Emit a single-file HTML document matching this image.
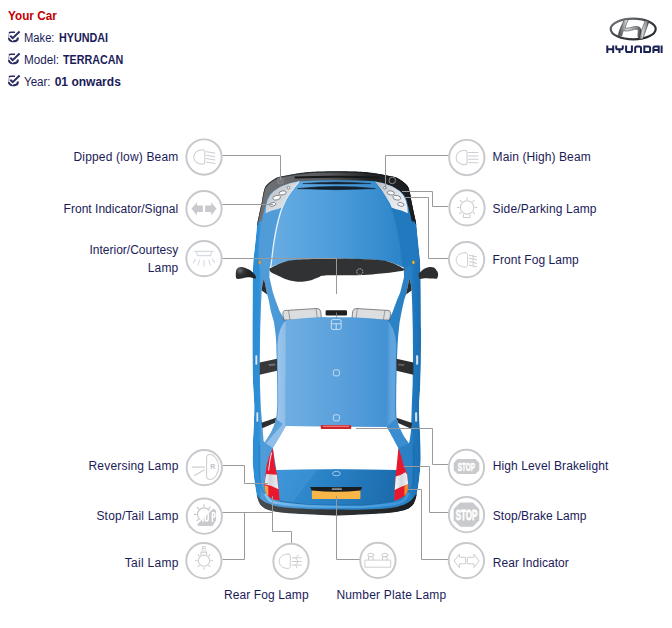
<!DOCTYPE html>
<html><head><meta charset="utf-8"><title>Your Car</title>
<style>
html,body{margin:0;padding:0;background:#fff;}
body{width:672px;height:628px;position:relative;overflow:hidden;font-family:"Liberation Sans",sans-serif;font-size:12px;color:#1b1b58;}
.lb{position:absolute;white-space:nowrap;line-height:14px;height:14px;color:#1b1b58;}
.hd{position:absolute;left:8px;white-space:nowrap;line-height:14px;}
.hd b{font-weight:bold;}
svg{position:absolute;left:0;top:0;}
</style></head><body>
<svg width="672" height="628" viewBox="0 0 672 628">
<defs>
<linearGradient id="gBody" x1="253" x2="421" y1="0" y2="0" gradientUnits="userSpaceOnUse">
 <stop offset="0" stop-color="#2b8dd5"/><stop offset="0.036" stop-color="#2d8fd6"/><stop offset="0.05" stop-color="#4f9cd9"/><stop offset="0.2" stop-color="#4a98d6"/><stop offset="0.5" stop-color="#2e88cb"/><stop offset="0.94" stop-color="#2a80c4"/><stop offset="0.955" stop-color="#1f77bd"/><stop offset="1" stop-color="#1b6fb3"/>
</linearGradient>
<linearGradient id="gHood" x1="268" x2="406" y1="0" y2="0" gradientUnits="userSpaceOnUse">
 <stop offset="0" stop-color="#69ade3"/><stop offset="0.45" stop-color="#4f9edb"/><stop offset="1" stop-color="#2a84c8"/>
</linearGradient>
<linearGradient id="gRoof" x1="286" x2="390" y1="0" y2="0" gradientUnits="userSpaceOnUse">
 <stop offset="0" stop-color="#6eade2"/><stop offset="0.5" stop-color="#5ba1dc"/><stop offset="1" stop-color="#4291d3"/>
</linearGradient>
<linearGradient id="gTail" x1="276" x2="398" y1="470" y2="505" gradientUnits="userSpaceOnUse">
 <stop offset="0" stop-color="#3892d6"/><stop offset="0.4" stop-color="#2a82c6"/><stop offset="0.75" stop-color="#2074b6"/><stop offset="1" stop-color="#1c69a8"/>
</linearGradient>
<linearGradient id="gBump" x1="259" x2="415" y1="0" y2="0" gradientUnits="userSpaceOnUse">
 <stop offset="0" stop-color="#717477"/><stop offset="0.45" stop-color="#56585b"/><stop offset="0.7" stop-color="#242526"/><stop offset="1" stop-color="#1b1c1d"/>
</linearGradient>
<linearGradient id="gHead" x1="0" x2="1" y1="0" y2="1">
 <stop offset="0" stop-color="#aab0b7"/><stop offset="0.45" stop-color="#d3d7dc"/><stop offset="1" stop-color="#eceef1"/>
</linearGradient>
<linearGradient id="gHeadR" x1="0" x2="1" y1="0" y2="1">
 <stop offset="0" stop-color="#b4bac2"/><stop offset="0.5" stop-color="#dfe3e8"/><stop offset="1" stop-color="#f2f4f6"/>
</linearGradient>
<linearGradient id="gBumpEdge" x1="257" x2="416" y1="0" y2="0" gradientUnits="userSpaceOnUse">
 <stop offset="0" stop-color="#3c3e40"/><stop offset="0.6" stop-color="#1e1f20"/><stop offset="1" stop-color="#161617"/>
</linearGradient>
<radialGradient id="gMirL" cx="240" cy="270.5" r="9" gradientUnits="userSpaceOnUse">
 <stop offset="0" stop-color="#6d6f72"/><stop offset="0.45" stop-color="#333436"/><stop offset="1" stop-color="#222324"/>
</radialGradient>
<linearGradient id="gRailL" x1="276" x2="286" y1="0" y2="0" gradientUnits="userSpaceOnUse">
 <stop offset="0" stop-color="#5ea2db"/><stop offset="0.15" stop-color="#9cc6ec"/><stop offset="0.9" stop-color="#8ebde8"/><stop offset="1" stop-color="#7db4e4"/>
</linearGradient>
<linearGradient id="gRailR" x1="387" x2="398" y1="0" y2="0" gradientUnits="userSpaceOnUse">
 <stop offset="0" stop-color="#4a97d7"/><stop offset="0.45" stop-color="#62a5de"/><stop offset="0.85" stop-color="#5fa3dd"/><stop offset="1" stop-color="#4492d3"/>
</linearGradient>
<linearGradient id="gDpL" x1="266" x2="284" y1="424" y2="440" gradientUnits="userSpaceOnUse">
 <stop offset="0" stop-color="#4f9ad7"/><stop offset="0.5" stop-color="#5ea3db"/><stop offset="0.55" stop-color="#8fbfe9"/><stop offset="1" stop-color="#8fbfe9"/>
</linearGradient>
<linearGradient id="gStrip" x1="265" x2="409" y1="0" y2="0" gradientUnits="userSpaceOnUse">
 <stop offset="0" stop-color="#8fc6ef"/><stop offset="0.25" stop-color="#62ade6"/><stop offset="0.6" stop-color="#4ea2e0"/><stop offset="1" stop-color="#3c96db"/>
</linearGradient>
<linearGradient id="gBumpR" x1="256" x2="416" y1="0" y2="0" gradientUnits="userSpaceOnUse">
 <stop offset="0" stop-color="#4a4c4e"/><stop offset="0.5" stop-color="#303133"/><stop offset="1" stop-color="#1d1e1f"/>
</linearGradient>
<linearGradient id="gLampL" x1="265" x2="278" y1="0" y2="0" gradientUnits="userSpaceOnUse">
 <stop offset="0" stop-color="#f4f6f8"/><stop offset="0.4" stop-color="#cfd5db"/><stop offset="1" stop-color="#e9edf0"/>
</linearGradient>
<linearGradient id="gLampR" x1="395" x2="408" y1="0" y2="0" gradientUnits="userSpaceOnUse">
 <stop offset="0" stop-color="#f6f8fa"/><stop offset="0.5" stop-color="#d5dae0"/><stop offset="1" stop-color="#eef1f4"/>
</linearGradient>
</defs>
<clipPath id="cBody"><path d="M336.7 171.3C328.47 171.3 318.28 171.47 312 171.8C305.72 172.13 302.67 172.82 299 173.3C295.33 173.78 293.1 174.15 290 174.7C286.9 175.25 282.88 175.95 280.4 176.6C277.92 177.25 277.1 177.48 275.1 178.6C273.1 179.72 270.07 181.85 268.4 183.3C266.73 184.75 265.97 185.52 265.1 187.3C264.23 189.08 263.73 191.63 263.2 194C262.67 196.37 262.62 197.87 261.9 201.5C261.18 205.13 259.7 211.98 258.9 215.8C258.1 219.62 257.58 221.03 257.1 224.4C256.62 227.77 256.43 231.73 256 236C255.57 240.27 254.93 246 254.5 250C254.07 254 253.68 255.83 253.4 260C253.12 264.17 252.93 270 252.8 275C252.67 280 252.67 280.83 252.6 290C252.53 299.17 252.42 318 252.4 330C252.38 342 252.42 353.67 252.5 362C252.58 370.33 252.72 374.67 252.9 380C253.08 385.33 253.38 389.83 253.6 394C253.82 398.17 254.12 401.33 254.2 405C254.28 408.67 254.2 412.17 254.1 416C254 419.83 253.78 424 253.6 428C253.42 432 253.15 435.83 253 440C252.85 444.17 252.72 448.83 252.7 453C252.68 457.17 252.57 460.02 252.9 465C253.23 469.98 254.03 477.83 254.7 482.9C255.37 487.97 256.08 491.98 256.9 495.4C257.72 498.82 258.4 501.32 259.6 503.4C260.8 505.48 262.32 506.72 264.1 507.9C265.88 509.08 267.03 509.68 270.3 510.5C273.57 511.32 277.45 512.17 283.7 512.8C289.95 513.43 298.97 513.87 307.8 514.3C316.63 514.73 327.07 515.4 336.7 515.4C346.33 515.4 356.77 514.73 365.6 514.3C374.43 513.87 383.45 513.43 389.7 512.8C395.95 512.17 399.83 511.32 403.1 510.5C406.37 509.68 407.52 509.08 409.3 507.9C411.08 506.72 412.6 505.48 413.8 503.4C415 501.32 415.68 498.82 416.5 495.4C417.32 491.98 418.03 487.97 418.7 482.9C419.37 477.83 420.17 469.98 420.5 465C420.83 460.02 420.72 457.17 420.7 453C420.68 448.83 420.55 444.17 420.4 440C420.25 435.83 419.98 432 419.8 428C419.62 424 419.4 419.83 419.3 416C419.2 412.17 419.12 408.67 419.2 405C419.28 401.33 419.58 398.17 419.8 394C420.02 389.83 420.32 385.33 420.5 380C420.68 374.67 420.82 370.33 420.9 362C420.98 353.67 421.02 342 421 330C420.98 318 420.87 299.17 420.8 290C420.73 280.83 420.73 280 420.6 275C420.47 270 420.28 264.17 420 260C419.72 255.83 419.33 254 418.9 250C418.47 246 417.83 240.27 417.4 236C416.97 231.73 416.78 227.77 416.3 224.4C415.82 221.03 415.3 219.62 414.5 215.8C413.7 211.98 412.22 205.13 411.5 201.5C410.78 197.87 410.73 196.37 410.2 194C409.67 191.63 409.17 189.08 408.3 187.3C407.43 185.52 406.67 184.75 405 183.3C403.33 181.85 400.3 179.72 398.3 178.6C396.3 177.48 395.48 177.25 393 176.6C390.52 175.95 386.5 175.25 383.4 174.7C380.3 174.15 378.07 173.78 374.4 173.3C370.73 172.82 367.68 172.13 361.4 171.8C355.12 171.47 344.93 171.3 336.7 171.3Z"/></clipPath>
<g clip-path="url(#cBody)">
<path d="M336.7 171.3C328.47 171.3 318.28 171.47 312 171.8C305.72 172.13 302.67 172.82 299 173.3C295.33 173.78 293.1 174.15 290 174.7C286.9 175.25 282.88 175.95 280.4 176.6C277.92 177.25 277.1 177.48 275.1 178.6C273.1 179.72 270.07 181.85 268.4 183.3C266.73 184.75 265.97 185.52 265.1 187.3C264.23 189.08 263.73 191.63 263.2 194C262.67 196.37 262.62 197.87 261.9 201.5C261.18 205.13 259.7 211.98 258.9 215.8C258.1 219.62 257.58 221.03 257.1 224.4C256.62 227.77 256.43 231.73 256 236C255.57 240.27 254.93 246 254.5 250C254.07 254 253.68 255.83 253.4 260C253.12 264.17 252.93 270 252.8 275C252.67 280 252.67 280.83 252.6 290C252.53 299.17 252.42 318 252.4 330C252.38 342 252.42 353.67 252.5 362C252.58 370.33 252.72 374.67 252.9 380C253.08 385.33 253.38 389.83 253.6 394C253.82 398.17 254.12 401.33 254.2 405C254.28 408.67 254.2 412.17 254.1 416C254 419.83 253.78 424 253.6 428C253.42 432 253.15 435.83 253 440C252.85 444.17 252.72 448.83 252.7 453C252.68 457.17 252.57 460.02 252.9 465C253.23 469.98 254.03 477.83 254.7 482.9C255.37 487.97 256.08 491.98 256.9 495.4C257.72 498.82 258.4 501.32 259.6 503.4C260.8 505.48 262.32 506.72 264.1 507.9C265.88 509.08 267.03 509.68 270.3 510.5C273.57 511.32 277.45 512.17 283.7 512.8C289.95 513.43 298.97 513.87 307.8 514.3C316.63 514.73 327.07 515.4 336.7 515.4C346.33 515.4 356.77 514.73 365.6 514.3C374.43 513.87 383.45 513.43 389.7 512.8C395.95 512.17 399.83 511.32 403.1 510.5C406.37 509.68 407.52 509.08 409.3 507.9C411.08 506.72 412.6 505.48 413.8 503.4C415 501.32 415.68 498.82 416.5 495.4C417.32 491.98 418.03 487.97 418.7 482.9C419.37 477.83 420.17 469.98 420.5 465C420.83 460.02 420.72 457.17 420.7 453C420.68 448.83 420.55 444.17 420.4 440C420.25 435.83 419.98 432 419.8 428C419.62 424 419.4 419.83 419.3 416C419.2 412.17 419.12 408.67 419.2 405C419.28 401.33 419.58 398.17 419.8 394C420.02 389.83 420.32 385.33 420.5 380C420.68 374.67 420.82 370.33 420.9 362C420.98 353.67 421.02 342 421 330C420.98 318 420.87 299.17 420.8 290C420.73 280.83 420.73 280 420.6 275C420.47 270 420.28 264.17 420 260C419.72 255.83 419.33 254 418.9 250C418.47 246 417.83 240.27 417.4 236C416.97 231.73 416.78 227.77 416.3 224.4C415.82 221.03 415.3 219.62 414.5 215.8C413.7 211.98 412.22 205.13 411.5 201.5C410.78 197.87 410.73 196.37 410.2 194C409.67 191.63 409.17 189.08 408.3 187.3C407.43 185.52 406.67 184.75 405 183.3C403.33 181.85 400.3 179.72 398.3 178.6C396.3 177.48 395.48 177.25 393 176.6C390.52 175.95 386.5 175.25 383.4 174.7C380.3 174.15 378.07 173.78 374.4 173.3C370.73 172.82 367.68 172.13 361.4 171.8C355.12 171.47 344.93 171.3 336.7 171.3Z" fill="url(#gBody)" />
<path d="M252.32 221.4C252.64 219.97 253.38 216.62 254.23 212.8C255.08 208.98 256.65 202.13 257.41 198.5C258.17 194.87 258.22 193.37 258.79 191C259.36 188.63 259.89 186.08 260.8 184.3C261.72 182.52 262.54 181.75 264.3 180.3C266.07 178.85 269.28 176.72 271.4 175.6C273.52 174.48 274.39 174.25 277.02 173.6C279.65 172.95 283.91 172.25 287.2 171.7C290.48 171.15 292.85 170.78 296.74 170.3C300.62 169.82 303.86 169.13 310.52 168.8C317.18 168.47 327.97 168.3 336.7 168.3C345.43 168.3 356.22 168.47 362.88 168.8C369.54 169.13 372.78 169.82 376.66 170.3C380.55 170.78 382.92 171.15 386.2 171.7C389.49 172.25 393.75 172.95 396.38 173.6C399.01 174.25 399.88 174.48 402 175.6C404.12 176.72 407.33 178.85 409.1 180.3C410.86 181.75 411.68 182.52 412.6 184.3C413.51 186.08 414.04 188.63 414.61 191C415.18 193.37 415.23 194.87 415.99 198.5C416.75 202.13 418.32 208.98 419.17 212.8C420.02 216.62 420.76 219.97 421.08 221.4L411.7 221.5C411.4 220.08 410.55 215.75 409.9 213C409.25 210.25 408.43 207.33 407.8 205C407.17 202.67 406.83 200.75 406.1 199C405.37 197.25 404.52 195.9 403.4 194.5C402.28 193.1 401.23 191.95 399.4 190.6C397.57 189.25 395.07 187.63 392.4 186.4C389.73 185.17 386.4 184.03 383.4 183.2C380.4 182.37 378.57 181.8 374.4 181.4C370.23 181 364.68 180.93 358.4 180.8C352.12 180.67 343.93 180.6 336.7 180.6C329.47 180.6 321.28 180.67 315 180.8C308.72 180.93 303.17 181 299 181.4C294.83 181.8 293 182.37 290 183.2C287 184.03 283.67 185.17 281 186.4C278.33 187.63 275.83 189.25 274 190.6C272.17 191.95 271.12 193.1 270 194.5C268.88 195.9 268.03 197.25 267.3 199C266.57 200.75 266.23 202.67 265.6 205C264.97 207.33 264.15 210.25 263.5 213C262.85 215.75 262 220.08 261.7 221.5Z" fill="url(#gBump)" />
<path d="M257.1 225C257.4 223.57 258.1 220.22 258.9 216.4C259.7 212.58 261.18 205.73 261.9 202.1C262.62 198.47 262.67 196.97 263.2 194.6C263.73 192.23 264.23 189.68 265.1 187.9C265.97 186.12 266.73 185.35 268.4 183.9C270.07 182.45 273.1 180.32 275.1 179.2C277.1 178.08 277.92 177.85 280.4 177.2C282.88 176.55 286.9 175.85 290 175.3C293.1 174.75 295.33 174.38 299 173.9C302.67 173.42 305.72 172.73 312 172.4C318.28 172.07 328.47 171.9 336.7 171.9C344.93 171.9 355.12 172.07 361.4 172.4C367.68 172.73 370.73 173.42 374.4 173.9C378.07 174.38 380.3 174.75 383.4 175.3C386.5 175.85 390.52 176.55 393 177.2C395.48 177.85 396.3 178.08 398.3 179.2C400.3 180.32 403.33 182.45 405 183.9C406.67 185.35 407.43 186.12 408.3 187.9C409.17 189.68 409.67 192.23 410.2 194.6C410.73 196.97 410.78 198.47 411.5 202.1C412.22 205.73 413.7 212.58 414.5 216.4C415.3 220.22 416 223.57 416.3 225" fill="none" stroke="url(#gBumpEdge)" stroke-width="1.3"/>
<circle cx="280.4" cy="180.9" r="3.3" fill="#74777b" stroke="#8d9094" stroke-width="0.5"/>
<circle cx="392.3" cy="180.4" r="3.3" fill="none" stroke="#c9ccd0" stroke-width="0.6"/>
<path d="M336.7 180.6L315 180.8L299 181.4L292.8 189L287.5 196.7L283.3 205L280 214L276.5 228L273.5 245L271.3 263L270.5 267L283 262L300 259.4L336.7 258.3L373.4 259.4L390.4 262L402.9 267L402.1 263L399.9 245L396.9 228L393.4 214L390.1 205L385.9 196.7L380.6 189L374.4 181.4L358.4 180.8Z" fill="url(#gHood)" />
<path d="M265.6 213.2L272 210.6L278 208.9L281.8 207.6L280 214L276.5 228L273.5 245L271.3 263L270.5 267L264 276L259.5 268L258.2 255L259 240L260.5 228L261.7 221.5Z" fill="#509cd9" />
<path d="M374.4 181.4L380.6 189L385.9 196.7L390.1 205L393.4 214L396.9 228L399.9 245L402.1 263L402.9 267L404.5 268L419.5 262L418 240L416.3 224.4L411.7 221.5L408.4 213Z" fill="#2279bd" />
<path d="M299 181.4C297.97 182.67 294.72 186.45 292.8 189C290.88 191.55 289.08 194.03 287.5 196.7C285.92 199.37 284.55 202.12 283.3 205C282.05 207.88 281.13 210.17 280 214C278.87 217.83 277.58 222.83 276.5 228C275.42 233.17 274.37 239.17 273.5 245C272.63 250.83 271.8 259.33 271.3 263C270.8 266.67 270.63 266.33 270.5 267" fill="none" stroke="#eaf3fb" stroke-width="1.3"/>
<path d="M374.4 181.4C375.43 182.67 378.68 186.45 380.6 189C382.52 191.55 384.32 194.03 385.9 196.7C387.48 199.37 388.85 202.12 390.1 205C391.35 207.88 392.27 210.17 393.4 214C394.53 217.83 395.82 222.83 396.9 228C397.98 233.17 399.03 239.17 399.9 245C400.77 250.83 401.6 259.33 402.1 263C402.6 266.67 402.77 266.33 402.9 267" fill="none" stroke="#2a7fc2" stroke-width="0.8"/>
<path d="M294.5 176.6Q336.7 175 379.3 176.6L379 178.4Q336.7 176.9 294.8 178.4Z" fill="#17181a"/>
<path d="M302.8 183.6Q336.7 180.4 371 183.6Q336.7 184.6 302.8 183.6Z" fill="#172636" stroke="#172636" stroke-width="0.5"/>
<path d="M297.6 188.6Q336.7 184.2 375.2 188.6Q336.7 190.8 297.6 188.6Z" fill="#13202d" stroke="#13202d" stroke-width="0.6"/>
<path d="M298.6 181.6L290 183.3L281 186.6L274 190.9L270.2 195L267.5 200.5L266 207L265.6 213.2L272 210.6L278 208.9L281.8 207.6L283.5 203.5L287.5 196.7L292.5 189Z" fill="url(#gHead)" />
<path d="M374.8 181.6L383.4 183.3L392.4 186.6L399.4 190.9L403.2 195L405.9 200.5L407.4 207L407.8 213.2L401.4 210.6L395.4 208.9L391.6 207.6L389.9 203.5L385.9 196.7L380.9 189Z" fill="url(#gHeadR)" />
<ellipse cx="288.5" cy="187.7" rx="1.4" ry="1.3" transform="rotate(0 288.5 187.7)" fill="#f9fafb" stroke="#70767d" stroke-width="0.8"/>
<ellipse cx="384.9" cy="187.7" rx="1.4" ry="1.3" transform="rotate(0 384.9 187.7)" fill="#f9fafb" stroke="#70767d" stroke-width="0.8"/>
<ellipse cx="282.6" cy="192.9" rx="3.6" ry="2.0" transform="rotate(-12 282.6 192.9)" fill="#f9fafb" stroke="#70767d" stroke-width="0.8"/>
<ellipse cx="390.8" cy="192.9" rx="3.6" ry="2.0" transform="rotate(12 390.8 192.9)" fill="#f9fafb" stroke="#70767d" stroke-width="0.8"/>
<ellipse cx="276.6" cy="197.7" rx="4.0" ry="2.3" transform="rotate(-14 276.6 197.7)" fill="#f9fafb" stroke="#70767d" stroke-width="0.8"/>
<ellipse cx="396.8" cy="197.7" rx="4.0" ry="2.3" transform="rotate(14 396.8 197.7)" fill="#f9fafb" stroke="#70767d" stroke-width="0.8"/>
<ellipse cx="272.6" cy="204.4" rx="3.2" ry="1.8" transform="rotate(-14 272.6 204.4)" fill="#f9fafb" stroke="#70767d" stroke-width="0.8"/>
<ellipse cx="400.8" cy="204.4" rx="3.2" ry="1.8" transform="rotate(14 400.8 204.4)" fill="#f9fafb" stroke="#70767d" stroke-width="0.8"/>
<path d="M283 262L300 259.4L336.7 258.3L373.4 259.4L390.4 262L403.8 267.5L404 277.3L400.2 292.5L397 300L392.6 312L389.8 318L387.4 320.3L336.7 317.5L286.1 320.3L283 317L279.4 310.7L275.4 300L272.9 292.5L269.4 277.3L269.6 267.5Z" fill="#fff" />
<path d="M263.9 278.5L265.3 285L267.2 294.6L268.7 300L270.9 311.6L274 322.3L275.8 335.7L276.3 344.6L276.8 362L277.2 385L277.3 405L276.6 415L275.9 419L274.6 424.5L271.4 431.8L268 437.6L264.6 442.4L263.6 441L262.5 427.3L261.4 415L260.7 405L260 385L259.8 362L260.2 330L261 305L261.7 290.6L262.5 284Z" fill="#fff" />
<path d="M409.3 278.5L408 285L406 294.6L404.2 300L401.6 311.6L399.6 322.3L398.2 335.7L397.6 344.6L396.8 362L396.3 385L396.1 405L396.3 414L396.6 418.4L398.4 425.5L401 431L403.7 436.3L408.8 443.4L409.6 441L410.9 431.8L411.5 415L411.8 405L412.6 385L413 362L412.8 330L412.2 305L411.6 290.6L410.8 284Z" fill="#fff" />
<path d="M285.7 426L387 426.8L392 436L398.4 447.9L397.6 470L336.7 469.3L276.4 470L272.8 447.9L280 436Z" fill="#fff" />
<path d="M263.9 278.5L265.3 285L267.2 294.6L261.7 290.6L262.5 284Z" fill="#2a2c2e" />
<path d="M409.3 278.5L408 285L406 294.6L411.6 290.6L410.8 284Z" fill="#2a2c2e" />
<path d="M259.6 362.4L277 358.8L277 370.8L259.6 374.8Z" fill="#36383a" />
<path d="M268 364.2L275 363.4L275.5 365.4L269.5 366Z" fill="#6f7276"/>
<path d="M413.4 362.4L396.4 358.8L396.4 370.8L413.4 374.8Z" fill="#2c2e30" />
<path d="M405 364.2L398.4 363.4L398 365.4L403.5 366Z" fill="#5d6064"/>
<path d="M261.4 422.8L276.2 417.8L275 422.8L262.3 428.2Z" fill="#2b2d2f" />
<path d="M396.4 417.7L412.3 422.9L411.2 428.8L398 422.9Z" fill="#2b2d2f" />
<path d="M284.5 310.5L317 308.5Q320 308.5 320.8 311.5L321.5 320L284 320Q281.5 311.5 284.5 310.5Z" fill="#dcdddf" stroke="#55585c" stroke-width="0.7"/>
<path d="M288.5 310.5L290 320M316 308.5L317.5 320" stroke="#6b6e72" stroke-width="0.6" fill="none"/>
<g transform="translate(673.4 0) scale(-1 1)"><path d="M284.5 310.5L317 308.5Q320 308.5 320.8 311.5L321.5 320L284 320Q281.5 311.5 284.5 310.5Z" fill="#dcdddf" stroke="#55585c" stroke-width="0.7"/><path d="M288.5 310.5L290 320M316 308.5L317.5 320" stroke="#6b6e72" stroke-width="0.6" fill="none"/></g>
<rect x="325.6" y="310.2" width="21.4" height="5.2" rx="1.2" fill="#1e1f20"/>
<path d="M336.5 312.5V317.5" stroke="#888" stroke-width="0.8"/>
<path d="M269.3 268.8C271.58 267.72 277.88 263.83 283 262.3C288.12 260.77 291.05 260.23 300 259.6C308.95 258.97 324.47 258.5 336.7 258.5C348.93 258.5 364.45 258.97 373.4 259.6C382.35 260.23 385.28 260.77 390.4 262.3C395.52 263.83 401.82 267.72 404.1 268.8L404.7 268.8C404.48 269.1 405.02 270.07 403.4 270.6C401.78 271.13 398.23 271.55 395 272C391.77 272.45 387.83 272.9 384 273.3C380.17 273.7 377.33 274.08 372 274.4C366.67 274.72 359.83 275.03 352 275.2C344.17 275.37 330.67 275.02 325 275.4C319.33 275.78 320.5 276.63 318 277.5C315.5 278.37 312.67 279.88 310 280.6C307.33 281.32 304.67 281.68 302 281.8C299.33 281.92 296.67 281.73 294 281.3C291.33 280.87 288.67 280.12 286 279.2C283.33 278.28 280.42 276.9 278 275.8C275.58 274.7 272.87 273.5 271.5 272.6C270.13 271.7 270.17 271.03 269.8 270.4C269.43 269.77 269.38 269.07 269.3 268.8Z" fill="#303234" />
<circle cx="359.8" cy="271.8" r="3.1" fill="none" stroke="#e6e8ea" stroke-width="0.8" stroke-dasharray="1.3 0.8"/>
<path d="M286.1 320.3L300 318.5L321 317L336.7 317.5L352 317.2L373 318.6L387.4 320.3L387 426.8L285.7 426Z" fill="url(#gRoof)" />
<path d="M286.1 320.5L283.2 323.5L280.4 329L278.4 336L277.5 345L277.7 362L278.1 385L278.2 405L277.5 415L276.8 419L274.6 424.5L280 436L285.7 426Z" fill="url(#gRailL)"/>
<path d="M387.4 320.5L390 323.5L393 329L395.2 336L396.3 345L395.9 362L395.4 385L395.2 405L395.4 414L395.7 418.4L398.4 425.5L392 436L387 426.8Z" fill="url(#gRailR)"/>
<path d="M285.7 426L280 436L272.8 447.9L264.6 442.4L268 437.6L271.4 431.8L274.6 424.5L275.9 419L279 421Z" fill="url(#gDpL)"/>
<path d="M387 426.8L392 436L398.4 447.9L408.8 443.4L403.7 436.3L401 431L398.4 425.5L396.6 418.4L393 421Z" fill="#398dd0"/>
<g fill="none" stroke="#e3eef8" stroke-width="0.8"><rect x="331.3" y="319.6" width="9.8" height="9.8" rx="1.5"/><path d="M331.3 323.8H341.1M336.2 323.8V329.4"/></g>
<rect x="333.4" y="369.9" width="6" height="6" rx="1.6" fill="none" stroke="#dcebf8" stroke-width="0.8"/>
<rect x="333.4" y="414.8" width="6" height="6" rx="1.6" fill="none" stroke="#dcebf8" stroke-width="0.8"/>
<rect x="320.8" y="425.1" width="30.4" height="4" rx="1.2" fill="#cf242b"/>
<rect x="323" y="425.7" width="26" height="1.1" fill="#ee8a8c"/>
<path d="M276.4 470L336.7 469.4L396.8 470L395.5 476.6L394.1 501L366 505L336.7 505.2L307.8 504.6L279.7 501L277.5 476.6Z" fill="url(#gTail)" />
<path d="M276.4 470L318 469.6L292 503L279.7 501Z" fill="#4a9fe0" opacity="0.35"/>
<ellipse cx="336.4" cy="473.6" rx="3.9" ry="2.2" fill="none" stroke="#d7e7f5" stroke-width="0.7"/>
<path d="M279.7 501C284.38 501.6 298.3 503.9 307.8 504.6C317.3 505.3 327 505.13 336.7 505.2C346.4 505.27 356.43 505.7 366 505C375.57 504.3 389.42 501.67 394.1 501" fill="none" stroke="#1a5f9a" stroke-width="0.7"/>
<path d="M310.3 487L362 487L360.6 490.6L311.8 490.6Z" fill="#1b1c1e"/>
<path d="M311.9 489.8Q336.2 492.6 360.4 489.8L360.4 498.2Q360.4 498.9 359.6 498.9H312.7Q311.9 498.9 311.9 498.2Z" fill="#f8b548"/>
<path d="M310.3 487H362L360.5 490.4Q336.2 493 311.9 490.4Z" fill="#1b1c1e"/>
<path d="M332 488.3h9.6M331.6 489.5h10.4" stroke="#b9bcc0" stroke-width="0.7"/>
<path d="M265.2 493.5C265.57 494.18 266.55 496.4 267.4 497.6C268.25 498.8 268.87 499.83 270.3 500.7C271.73 501.57 273.77 502.25 276 502.8C278.23 503.35 278.4 503.47 283.7 504C289 504.53 298.97 505.53 307.8 506C316.63 506.47 327 506.7 336.7 506.8C346.4 506.9 356.65 507.07 366 506.6C375.35 506.13 387.22 504.7 392.8 504C398.38 503.3 397.72 502.98 399.5 502.4C401.28 501.82 402.33 501.4 403.5 500.5C404.67 499.6 405.65 498.33 406.5 497C407.35 495.67 408.25 493.25 408.6 492.5" fill="none" stroke="url(#gStrip)" stroke-width="2.4"/>
<path d="M256.3 494C256.83 494.67 258.35 496.85 259.5 498C260.65 499.15 261.7 499.97 263.2 500.9C264.7 501.83 266.57 502.78 268.5 503.6C270.43 504.42 272.27 505.2 274.8 505.8C277.33 506.4 278.2 506.68 283.7 507.2C289.2 507.72 298.97 508.53 307.8 508.9C316.63 509.27 327 509.28 336.7 509.4C346.4 509.52 357.4 509.78 366 509.6C374.6 509.42 382.65 508.88 388.3 508.3C393.95 507.72 396.62 507.07 399.9 506.1C403.18 505.13 405.92 503.7 408 502.5C410.08 501.3 411.03 500.28 412.4 498.9C413.77 497.52 415.57 494.98 416.2 494.2L422 496L418 512L400 520L336.7 522L272 520L255 512L250 496Z" fill="url(#gBumpR)" />
<path d="M259.4 445C259.37 448.33 259.07 458.83 259.2 465C259.33 471.17 259.63 477.67 260.2 482C260.77 486.33 261.77 489.08 262.6 491C263.43 492.92 264.77 493.08 265.2 493.5" fill="none" stroke="#1f72b6" stroke-width="0.7"/>
<path d="M414 445C414.03 448.33 414.33 458.83 414.2 465C414.07 471.17 413.77 478 413.2 482C412.63 486 411.57 487.25 410.8 489C410.03 490.75 408.97 491.92 408.6 492.5" fill="none" stroke="#17629f" stroke-width="0.7"/>
<path d="M272.8 447.9Q268.5 457 266.75 465L265.4 475.7L264.5 485.5L265.4 491.8L267.2 494.9Q270.5 498.4 274.8 499.8L279.7 500.6L277.5 476.6L274.8 465Z" fill="#e8192e"/>
<path d="M266.3 473.9L276.9 474.8L278.4 489.3Q271.5 485.2 264.9 484.2L265.4 478Z" fill="url(#gLampL)"/>
<path d="M264.6 485.4Q266.5 485.6 268.2 486.3L268.4 495.8L267.2 494.9L265.4 491.8Z" fill="#f3a640"/>
<path d="M271.6 452.5Q269.6 460 268.6 470.5" stroke="#fff" stroke-width="0.9" fill="none"/>
<path d="M398.4 447.9Q401.6 456 403.5 465L407.1 473.9L408.4 484.6L407.5 491.8L405.3 495.4Q400.5 499 394.1 500.8L395.5 476.6L396.8 465Z" fill="#e8192e"/>
<path d="M395.8 476.4Q401 475.2 405.4 472.2L407.1 474.5L408.2 484.2Q400.8 486.5 394.7 490Z" fill="url(#gLampR)"/>
<path d="M404.4 485.8Q406.5 485.2 408.4 484.6L407.5 491.8L405.3 495.4L404.4 495.8Z" fill="#f08a2c"/>
<rect x="255.2" y="355" width="2.2" height="10" rx="1" fill="#eaf2fa" stroke="#2a70ad" stroke-width="0.4"/>
<rect x="416" y="355" width="2.2" height="10" rx="1" fill="#eaf2fa" stroke="#2a70ad" stroke-width="0.4"/>
<rect x="256.2" y="412" width="2.2" height="10" rx="1" fill="#eaf2fa" stroke="#2a70ad" stroke-width="0.4"/>
<rect x="415" y="412" width="2.2" height="10" rx="1" fill="#eaf2fa" stroke="#2a70ad" stroke-width="0.4"/>
<ellipse cx="259.8" cy="262.3" rx="1.3" ry="1.9" fill="#e9a63b" stroke="#8a6a2a" stroke-width="0.3"/>
<ellipse cx="413.4" cy="262.3" rx="1.3" ry="1.9" fill="#f0b63b" stroke="#8a6a2a" stroke-width="0.3"/>
</g>
<path d="M255.6 276C255.25 275.2 253.71 273.37 253 272.6C252.29 271.83 251.23 270.79 250.3 270.2C249.37 269.61 247.13 268.63 246 268.2C244.87 267.77 242.84 267.07 241.8 267C240.76 266.93 238.93 267.3 238.2 267.7C237.47 268.1 236.62 269.09 236.3 270C235.98 270.91 235.79 273.37 235.8 274.5C235.81 275.63 235.84 277.93 236.4 278.5C236.96 279.07 238.72 278.92 240 278.8C241.28 278.68 244.53 277.79 246 277.6C247.47 277.41 249.72 277.27 251 277.4C252.28 277.53 254.99 278.79 255.6 278.6C256.21 278.41 255.95 276.8 255.6 276Z" fill="url(#gMirL)"/>
<path d="M418.6 274C418.79 273 420.25 272.09 421 271.4C421.75 270.71 423.33 269.32 424.2 268.8C425.07 268.28 426.65 267.74 427.5 267.5C428.35 267.26 429.79 266.99 430.6 267C431.41 267.01 432.89 267.28 433.6 267.6C434.31 267.92 435.38 268.84 435.9 269.4C436.42 269.96 437.21 271.12 437.5 271.8C437.79 272.48 438.09 273.78 438.1 274.5C438.11 275.22 437.83 276.64 437.6 277.2C437.37 277.76 437.15 278.51 436.4 278.7C435.65 278.89 433.27 278.67 432 278.6C430.73 278.53 428.17 278.23 426.9 278.2C425.63 278.17 423.47 278.31 422.5 278.4C421.53 278.49 420.12 279.49 419.6 278.9C419.08 278.31 418.41 275 418.6 274Z" fill="#2d2e30"/>
<polyline points="222.5,155.5 280.5,155.5 280.5,180" fill="none" stroke="#9a9a9a" stroke-width="1"/>
<polyline points="222.5,204.5 273,204.5" fill="none" stroke="#9a9a9a" stroke-width="1"/>
<polyline points="222.5,258.5 336.5,258.5 336.5,294" fill="none" stroke="#9a9a9a" stroke-width="1"/>
<polyline points="448.5,155.5 385.5,155.5 385.5,189" fill="none" stroke="#9a9a9a" stroke-width="1"/>
<polyline points="448.5,206.5 432.5,206.5 432.5,191.5 402,191.5" fill="none" stroke="#9a9a9a" stroke-width="1"/>
<polyline points="448.5,258.5 428.5,258.5 428.5,197.5 405,197.5" fill="none" stroke="#9a9a9a" stroke-width="1"/>
<polyline points="222.5,465.5 244.5,465.5 244.5,483.5 268,483.5" fill="none" stroke="#9a9a9a" stroke-width="1"/>
<polyline points="222.5,512.5 272.5,512.5" fill="none" stroke="#9a9a9a" stroke-width="1"/>
<polyline points="222.5,559.5 244.5,559.5 244.5,512.5" fill="none" stroke="#9a9a9a" stroke-width="1"/>
<polyline points="272.5,496 272.5,531.5 291.5,531.5 291.5,543" fill="none" stroke="#9a9a9a" stroke-width="1"/>
<polyline points="360,559.5 336.5,559.5 336.5,496" fill="none" stroke="#9a9a9a" stroke-width="1"/>
<polyline points="448.5,464.5 432.5,464.5 432.5,428.5 356,428.5" fill="none" stroke="#9a9a9a" stroke-width="1"/>
<polyline points="448.5,512.5 429.5,512.5 429.5,466.5 403.5,466.5" fill="none" stroke="#9a9a9a" stroke-width="1"/>
<polyline points="448.5,559.5 421.5,559.5 421.5,489.5 407,489.5" fill="none" stroke="#9a9a9a" stroke-width="1"/>

<circle cx="204" cy="157" r="17.65" fill="#fff" stroke="#c8c9cd" stroke-width="1.95"/>
<g transform="translate(204 157)"><g fill="none" stroke="#cdced2" stroke-width="1.05" stroke-linecap="round" stroke-linejoin="round"><path d="M-1.20 -7.30C-6.90 -7.30 -10.20 -4.04 -10.20 -0.05C-10.20 3.94 -6.90 7.20 -1.20 7.20C0.20 7.20 0.80 6.00 0.80 4.20V-4.30C0.80 -6.10 0.20 -7.30 -1.20 -7.30Z"/><path d="M2.4 -5.3L10.8 -3.9M2.4 -1.75L10.8 -0.35M2.4 1.6L10.8 3M2.4 5.1L10.8 6.5"/></g></g>
<circle cx="204" cy="208.7" r="17.65" fill="#fff" stroke="#c8c9cd" stroke-width="1.95"/>
<g transform="translate(204 208.7)"><path d="M-12.5 0.1L-7 -6.5V-3.1H-1.15V3.3H-7V6.9ZM12.5 0.1L7.1 -6.5V-3.1H1.1V3.3H7.1V6.9Z" fill="#c9cacd"/></g>
<circle cx="204" cy="258.6" r="17.65" fill="#fff" stroke="#c8c9cd" stroke-width="1.95"/>
<g transform="translate(204 258.6)"><g fill="none" stroke="#d3dae3" stroke-width="1.1" stroke-linecap="round" stroke-linejoin="round"><path d="M-9.1 -7.2H8.9M-7.6 -7.2L-6.6 -3H6.6L7.7 -7.2"/><path d="M-8.3 0.5L-10.6 3.9M-4.5 1.6L-6 6.6M0.1 2V7.4M4.7 1.6L6.2 6.6M8.5 0.5L10.6 3.9"/></g></g>
<circle cx="204.3" cy="467.6" r="17.65" fill="#fff" stroke="#c8c9cd" stroke-width="1.95"/>
<g transform="translate(204.3 467.6)"><g fill="none" stroke="#cdced2" stroke-width="1.05" stroke-linecap="round" stroke-linejoin="round"><path d="M2.3 -9.5C2.3 -12 3.6 -13.1 5.6 -13.1C10.5 -13.1 14.3 -6.5 14.3 -0.6C14.3 5.3 10.5 11.9 5.6 11.9C3.6 11.9 2.3 10.8 2.3 8.3Z"/><path d="M-12.1 -0.5H0.2M0.2 2.2L-9.8 7.9"/></g><text x="8.5" y="1.2" font-family="Liberation Sans, sans-serif" font-size="6.8" font-weight="bold" text-anchor="middle" fill="#bfc0c4">R</text></g>
<circle cx="204.3" cy="516.2" r="17.65" fill="#fff" stroke="#c8c9cd" stroke-width="1.95"/>
<g transform="translate(204.3 516.2)"><g fill="none" stroke="#c9cacd" stroke-width="1.2" stroke-linecap="round" stroke-linejoin="round"><circle cx="-0.3" cy="-1.9" r="6.5"/><path d="M-0.30 -9.50L-0.30 -11.50M-5.67 -7.27L-7.09 -8.69M-7.90 -1.90L-9.90 -1.90M-5.95 3.19L-7.43 4.52M4.59 -7.72L5.87 -9.25"/></g><clipPath id="cST"><path d="M-8.2 8.3L9.1 -8.6L12.4 -6V4.2L8.6 10.3H-6.1Z"/></clipPath><path d="M-8.2 8.3L9.1 -8.6L12.4 -6V4.2L8.6 10.3H-6.1Z" fill="#c9cacd" stroke="#fff" stroke-width="1.2"/><g clip-path="url(#cST)" fill="none" stroke="#fff" stroke-width="1.5"><path d="M-1.3 -4V5.7"/><rect x="0.9" y="-3.4" width="3.0" height="8.3" rx="1.5"/><path d="M8.1 5.7V-3.4H9.3Q10.5 -3.4 10.5 -2.2V-0.3Q10.5 0.9 9.3 0.9H8.1"/></g></g>
<circle cx="203.9" cy="560.7" r="17.65" fill="#fff" stroke="#c8c9cd" stroke-width="1.95"/>
<g transform="translate(203.9 560.7)"><g fill="none" stroke="#cdced2" stroke-width="1.05" stroke-linecap="round" stroke-linejoin="round"><circle cx="0.1" cy="0" r="5.6"/><path d="M6.80 0.00L8.60 0.00M-6.60 -0.00L-8.40 -0.00M4.84 -4.74L6.11 -6.01M-4.64 -4.74L-5.91 -6.01M4.84 4.74L6.11 6.01M-4.64 4.74L-5.91 6.01M0.10 6.70L0.10 8.50"/><path d="M-2.9 -5.4V-8.6H2.7V-5.4"/></g><text x="0" y="-9.9" font-family="Liberation Sans, sans-serif" font-size="6.6" text-anchor="middle" fill="#c2c3c7">R</text></g>
<circle cx="466.8" cy="157.5" r="17.65" fill="#fff" stroke="#c8c9cd" stroke-width="1.95"/>
<g transform="translate(466.8 157.5)"><g fill="none" stroke="#cdced2" stroke-width="1.05" stroke-linecap="round" stroke-linejoin="round"><path d="M-1.70 -7.30C-7.40 -7.30 -10.70 -4.04 -10.70 -0.05C-10.70 3.94 -7.40 7.20 -1.70 7.20C-0.30 7.20 0.30 6.00 0.30 4.20V-4.30C0.30 -6.10 -0.30 -7.30 -1.70 -7.30Z"/><path d="M1.8 -5H11.2M1.8 -1.6H11.2M1.8 1.7H11.2M1.8 5.2H11.2"/></g></g>
<circle cx="467" cy="207.9" r="17.65" fill="#fff" stroke="#c8c9cd" stroke-width="1.95"/>
<g transform="translate(467 207.9)"><g fill="none" stroke="#cdced2" stroke-width="1.05" stroke-linecap="round" stroke-linejoin="round"><circle cx="0.1" cy="-0.5" r="6.7"/><path d="M0.10 -8.40L0.10 -10.30M5.69 -6.09L7.03 -7.43M-5.49 -6.09L-6.83 -7.43M8.00 -0.50L9.90 -0.50M-7.80 -0.50L-9.70 -0.50M6.15 4.58L7.61 5.80M-5.95 4.58L-7.41 5.80"/><path d="M-3.7 6.3V9.5H3.1V6.3"/></g></g>
<circle cx="466.6" cy="259.6" r="17.65" fill="#fff" stroke="#c8c9cd" stroke-width="1.95"/>
<g transform="translate(466.6 259.6)"><g fill="none" stroke="#cdced2" stroke-width="1.0" stroke-linecap="round" stroke-linejoin="round"><path d="M-1.00 -6.90C-6.98 -6.90 -10.40 -3.66 -10.40 0.30C-10.40 4.26 -6.98 7.50 -1.00 7.50C0.40 7.50 1.00 6.30 1.00 4.50V-3.90C1.00 -5.70 0.40 -6.90 -1.00 -6.90Z"/><path d="M2.8 -4.3L10 -2.8M2.8 -1.3L10 0.2M2.8 2.2L10 3.7M2.8 5.6L10 7.1"/><path d="M6.4 -4.6C5 -3 8 -2 6.6 -0.4C5.2 1.2 8.2 2.4 6.8 4C5.6 5.2 7.6 6 7 7.4"/></g></g>
<circle cx="466.4" cy="467.4" r="17.65" fill="#fff" stroke="#c8c9cd" stroke-width="1.95"/>
<g transform="translate(466.4 467.4)"><path d="M-8.9 -8.3H9.1L12.9 -4.5V2.8L9.1 6.6H-8.9L-12.7 2.8V-4.5Z" fill="#c9cacd"/><text x="-8.6" y="3.9" font-family="Liberation Sans, sans-serif" font-size="11.2" font-weight="bold" fill="#fff" stroke="#fff" stroke-width="0.55" textLength="17.1" lengthAdjust="spacingAndGlyphs">STOP</text></g>
<circle cx="466.5" cy="514.7" r="17.65" fill="#fff" stroke="#c8c9cd" stroke-width="1.95"/>
<g transform="translate(466.5 514.7)"><path d="M-6.3 -12.2H6.3L12.8 -5.7V5.6L6.3 12.1H-6.3L-12.8 5.6V-5.7Z" fill="#c9cacd"/><text x="-10.8" y="5.7" font-family="Liberation Sans, sans-serif" font-size="15.5" font-weight="bold" fill="#fff" stroke="#fff" stroke-width="0.8" textLength="21.6" lengthAdjust="spacingAndGlyphs">STOP</text></g>
<circle cx="466.4" cy="560.6" r="17.65" fill="#fff" stroke="#c8c9cd" stroke-width="1.95"/>
<g transform="translate(466.4 560.6)"><g fill="none" stroke="#cdced2" stroke-width="1.0" stroke-linecap="round" stroke-linejoin="round"><path d="M-12.1 0L-7 -6.4V-3.3H-0.85V3.2H-7V6.6ZM12.5 0L7.6 -6.4V-3.3H0.9V3.2H7.6V6.6Z"/></g></g>
<circle cx="291" cy="561.4" r="17.65" fill="#fff" stroke="#c8c9cd" stroke-width="1.95"/>
<g transform="translate(291 561.4)"><g fill="none" stroke="#cdced2" stroke-width="1.0" stroke-linecap="round" stroke-linejoin="round"><path d="M-2.70 -7.40C-8.47 -7.40 -11.80 -4.14 -11.80 -0.15C-11.80 3.84 -8.47 7.10 -2.70 7.10C-1.30 7.10 -0.70 5.90 -0.70 4.10V-4.40C-0.70 -6.20 -1.30 -7.40 -2.70 -7.40Z"/><path d="M1.2 -3.6H10.4M1.2 0.1H10.4M1.2 3.7H10.4"/><path d="M7.4 -6.4L4.6 -3.4L7.2 0.1L4.6 3.5L6 6.4"/></g></g>
<circle cx="377.9" cy="560.4" r="17.65" fill="#fff" stroke="#c8c9cd" stroke-width="1.95"/>
<g transform="translate(377.9 560.4)"><g fill="none" stroke="#cdced2" stroke-width="1.0" stroke-linecap="round" stroke-linejoin="round"><rect x="-12.6" y="-0.3" width="25.4" height="7.1"/><path d="M-9.4 -0.3V-3.6H-4.8V-0.3M4.6 -0.3V-3.6H9.2V-0.3"/><ellipse cx="-7.1" cy="-5.4" rx="3.1" ry="1.7"/><ellipse cx="6.9" cy="-5.4" rx="3.1" ry="1.7"/></g></g>

<defs><linearGradient id="gLogo" x1="0" x2="1" y1="0" y2="1"><stop offset="0" stop-color="#7b7e83"/><stop offset="0.5" stop-color="#3c3e42"/><stop offset="1" stop-color="#1f2124"/></linearGradient><linearGradient id="gLogoH" x1="0" x2="1" y1="0" y2="0"><stop offset="0" stop-color="#3a3c40"/><stop offset="0.35" stop-color="#d4d7da"/><stop offset="0.75" stop-color="#8d9095"/><stop offset="1" stop-color="#2c2e31"/></linearGradient></defs><ellipse cx="633.2" cy="29" rx="22.5" ry="10.4" fill="#fff" stroke="url(#gLogo)" stroke-width="2.2"/><path d="M624.6 19.2L628.3 19.8C626.5 23.5 625.2 26.5 625.6 28.2C628.5 28.6 632 26.6 636 26.4C639.5 26.3 641.3 28 641.2 31C641 34 640.2 36.5 642.6 39.2L638.8 38.7C637 36 638.4 33 638.2 30.6C637.8 28.6 635 29 632 30C628.5 31.2 625.5 31.4 623.5 30.5C622.8 32 622.2 33.8 621.8 35.9L618.2 35.2C619.5 29.5 621.8 24.5 624.6 19.2Z" fill="url(#gLogoH)" stroke="#2e3033" stroke-width="0.5"/><path d="M645.2 20.4L649.1 21.2C647 27 645 33 642.6 39.2L638.8 38.7C640.8 32.5 642.8 26.5 645.2 20.4Z" fill="url(#gLogoH)" stroke="#2e3033" stroke-width="0.5"/><path d="M607.3 45.6V53.0M613.2 45.6V53.0M607.3 49.3H613.2M616.2 45.6V47.7Q616.2 49.3 617.8 49.3H621.2Q622.8 49.3 622.8 47.7V45.6M619.5 49.3V53.0M626.1 45.6V50.4Q626.1 52.0 627.7 52.0H630.3Q631.9 52.0 631.9 50.4V45.6M635.2 53.0V48.2Q635.2 46.6 636.8 46.6H639.4Q641.0 46.6 641.0 48.2V53.0M644.3 46.6H648.5Q650.1 46.6 650.1 48.2V50.4Q650.1 52.0 648.5 52.0H644.3ZM653.4 53.0V48.2Q653.4 46.6 655.0 46.6H658.7V53.0M653.4 50.0H658.7M661.6 45.6V53.0" fill="none" stroke="#1b2354" stroke-width="2" stroke-linejoin="miter"/>
<g transform="translate(0 31.7)"><path d="M9 1.6Q9.6 0.5 11 0.5H15" fill="none" stroke="#2b2c60" stroke-width="1.5"/><path d="M8.9 2.5V6.5" fill="none" stroke="#9a9bb8" stroke-width="1.2"/><path d="M8.9 6.2Q9.3 9.4 12 9.4H15Q17.7 9.4 17.9 5.8" fill="none" stroke="#2b2c60" stroke-width="2.1"/><path d="M10.3 4.1L12.7 6.6L19.4 0" fill="none" stroke="#fff" stroke-width="4.2"/><path d="M10.3 4L12.7 6.5L19.6 -0.2" fill="none" stroke="#2b2c60" stroke-width="2"/></g><g transform="translate(0 53.7)"><path d="M9 1.6Q9.6 0.5 11 0.5H15" fill="none" stroke="#2b2c60" stroke-width="1.5"/><path d="M8.9 2.5V6.5" fill="none" stroke="#9a9bb8" stroke-width="1.2"/><path d="M8.9 6.2Q9.3 9.4 12 9.4H15Q17.7 9.4 17.9 5.8" fill="none" stroke="#2b2c60" stroke-width="2.1"/><path d="M10.3 4.1L12.7 6.6L19.4 0" fill="none" stroke="#fff" stroke-width="4.2"/><path d="M10.3 4L12.7 6.5L19.6 -0.2" fill="none" stroke="#2b2c60" stroke-width="2"/></g><g transform="translate(0 75.7)"><path d="M9 1.6Q9.6 0.5 11 0.5H15" fill="none" stroke="#2b2c60" stroke-width="1.5"/><path d="M8.9 2.5V6.5" fill="none" stroke="#9a9bb8" stroke-width="1.2"/><path d="M8.9 6.2Q9.3 9.4 12 9.4H15Q17.7 9.4 17.9 5.8" fill="none" stroke="#2b2c60" stroke-width="2.1"/><path d="M10.3 4.1L12.7 6.6L19.4 0" fill="none" stroke="#fff" stroke-width="4.2"/><path d="M10.3 4L12.7 6.5L19.6 -0.2" fill="none" stroke="#2b2c60" stroke-width="2"/></g>
</svg>
<div class="lb" style="left:73.5px;top:150px;letter-spacing:0.17px">Dipped (low) Beam</div>
<div class="lb" style="left:63.6px;top:201.5px;letter-spacing:0.02px">Front Indicator/Signal</div>
<div class="lb" style="left:89.5px;top:243.4px;letter-spacing:-0px">Interior/Courtesy</div>
<div class="lb" style="left:147.7px;top:261.4px;letter-spacing:0.17px">Lamp</div>
<div class="lb" style="left:88.5px;top:459.1px;letter-spacing:0.19px">Reversing Lamp</div>
<div class="lb" style="left:96.4px;top:509px;letter-spacing:0.2px">Stop/Tail Lamp</div>
<div class="lb" style="left:124.8px;top:556px;letter-spacing:0.28px">Tail Lamp</div>
<div class="lb" style="left:492.6px;top:150.2px;letter-spacing:0.09px">Main (High) Beam</div>
<div class="lb" style="left:492.6px;top:202.1px;letter-spacing:0.16px">Side/Parking Lamp</div>
<div class="lb" style="left:492.6px;top:252.7px;letter-spacing:0.06px">Front Fog Lamp</div>
<div class="lb" style="left:492.7px;top:459.1px;letter-spacing:0.11px">High Level Brakelight</div>
<div class="lb" style="left:492.7px;top:509px;letter-spacing:0.08px">Stop/Brake Lamp</div>
<div class="lb" style="left:492.7px;top:556px;letter-spacing:0.06px">Rear Indicator</div>
<div class="lb" style="left:223.9px;top:587.6px;letter-spacing:0.11px">Rear Fog Lamp</div>
<div class="lb" style="left:336.4px;top:587.6px;letter-spacing:0.19px">Number Plate Lamp</div>
<div class="lb" style="top:9.03px;font-size:12px;left:8px;transform:scaleX(0.9799);transform-origin:0 0;font-weight:bold;color:#c00000;">Your Car</div>
<div class="lb" style="top:31.03px;font-size:12px;left:23.7px;transform:scaleX(0.9327);transform-origin:0 0;">Make:</div>
<div class="lb" style="top:31.03px;font-size:12px;left:58.9px;transform:scaleX(0.8976);transform-origin:0 0;font-weight:bold;">HYUNDAI</div>
<div class="lb" style="top:53.03px;font-size:12px;left:23.7px;transform:scaleX(0.9722);transform-origin:0 0;">Model:</div>
<div class="lb" style="top:53.03px;font-size:12px;left:63px;transform:scaleX(0.8945);transform-origin:0 0;font-weight:bold;">TERRACAN</div>
<div class="lb" style="top:75.03px;font-size:12px;left:23.7px;transform:scaleX(0.9638);transform-origin:0 0;">Year:</div>
<div class="lb" style="top:75.03px;font-size:12px;left:54.7px;letter-spacing:0.01px;font-weight:bold;">01 onwards</div>
</body></html>
